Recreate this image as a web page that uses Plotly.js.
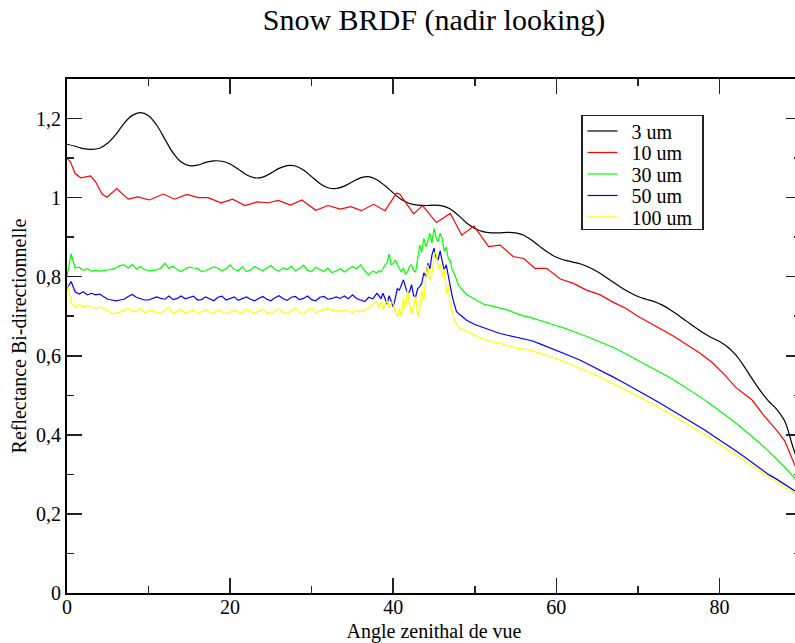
<!DOCTYPE html>
<html>
<head>
<meta charset="utf-8">
<script src="https://cdn.plot.ly/plotly-3.0.1.min.js"></script>
<style>
  html, body { margin: 0; padding: 0; overflow: hidden; background: #fff; }
  #chart { width: 810px; height: 643px; }
</style>
</head>
<body>
<div id="chart"></div>
<script>
// Snow BRDF, nadir looking: reflectance vs view zenith angle for five grain sizes

// 3 um grains (smooth curve)
const angle3 = [0,1,2,3,4,5,6,7,8,9,10,11,12,13,14,15,16,17,18,19,20,21,22,23,24,25,26,27,28,29,
  30,31,32,33,34,35,36,37,38,39,40,41,42,43,44,45,46,47,48,49,50,51,52,53,54,55,56,57,58,59,
  60,61,62,63,64,65,66,67,68,69,70,71,72,73,74,75,76,77,78,79,80,81,82,83,84,85,86,87,88,89,90];
const refl3 = [1.135,1.130,1.124,1.122,1.125,1.138,1.160,1.188,1.208,1.215,
  1.207,1.183,1.148,1.113,1.090,1.081,1.082,1.089,1.093,1.092,
  1.085,1.072,1.058,1.050,1.052,1.062,1.074,1.081,1.080,1.070,
  1.053,1.036,1.025,1.023,1.029,1.040,1.050,1.053,1.045,1.030,
  1.012,0.995,0.985,0.981,0.980,0.981,0.979,0.971,0.955,0.936,
  0.922,0.914,0.911,0.911,0.912,0.911,0.905,0.892,0.876,0.861,
  0.849,0.842,0.837,0.832,0.824,0.813,0.800,0.786,0.772,0.760,
  0.750,0.743,0.737,0.728,0.716,0.702,0.687,0.672,0.658,0.646,
  0.636,0.622,0.602,0.574,0.542,0.512,0.486,0.465,0.435,0.370,0.310];

// 10 um grains
const angle10 = [0,0.4,1,1.7,2.9,3.5,4.3,4.9,6.1,7.5,8.7,10.1,11.8,13.2,14.7,16.1,17.3,18.9,20.3,21.8,
  23.3,24.7,25.9,27.4,28.8,30.5,32.0,33.5,34.8,36.1,37.6,39.0,40.4,40.8,42.5,43.6,45.3,47.0,48.4,49.9,
  51.7,53.1,54.7,56.0,57.4,58.8,60.5,62.1,63.7,65.4,67,68.5,70,71.5,73,74.5,76,77.5,79,80.5,
  82,83,84,85.4,87,88,89.1,90];
const refl10 = [1.100,1.091,1.061,1.050,1.055,1.040,1.009,1.001,1.023,0.996,1.002,0.994,1.009,0.996,1.008,
  1.000,1.000,0.987,0.996,0.980,0.989,0.987,0.993,0.981,0.994,0.968,0.980,0.971,0.977,0.967,
  0.983,0.967,1.011,1.009,0.959,0.980,0.937,0.960,0.905,0.928,0.876,0.880,0.851,0.846,0.821,
  0.821,0.794,0.783,0.766,0.754,0.735,0.720,0.700,0.683,0.665,0.648,0.628,0.608,0.585,0.555,
  0.520,0.503,0.488,0.450,0.412,0.385,0.330,0.290];

// shared angle grid for the 30, 50 and 100 um curves
const angleFine = [0,0.5,1,1.5,2,2.5,3,3.5,4,4.5,5,5.5,6,6.5,7,7.5,8,8.5,9,9.5,
  10,10.5,11,11.5,12,12.5,13,13.5,14,14.5,15,15.5,16,16.5,17,17.5,18,18.5,19,19.5,
  20,20.5,21,21.5,22,22.5,23,23.5,24,24.5,25,25.5,26,26.5,27,27.5,28,28.5,29,29.5,
  30,30.5,31,31.5,32,32.5,33,33.5,34,34.5,35,35.5,36,36.5,37,37.5,38,
  38.25,38.5,38.75,39,39.25,39.5,39.75,40,40.25,40.5,40.75,41,41.25,41.5,41.75,42,42.25,42.5,42.75,43,
  43.25,43.5,43.75,44,44.25,44.5,44.75,45,45.25,45.5,45.75,46,46.25,46.5,46.75,47,47.25,47.5,47.75,48,
  49,50,51,52,53,54,55,56,57,58,59,60,61,62,63,64,65,66,67,68,69,
  70,71,72,73,74,75,76,77,78,79,80,81,82,83,84,85,86,87,88,89,90];

const refl30 = [0.800,0.858,0.822,0.824,0.816,0.820,0.814,0.816,0.814,0.815,
  0.817,0.819,0.822,0.828,0.830,0.822,0.831,0.819,0.826,0.818,
  0.815,0.816,0.817,0.822,0.834,0.821,0.827,0.818,0.813,0.820,
  0.824,0.822,0.821,0.813,0.815,0.820,0.825,0.822,0.815,0.820,
  0.830,0.818,0.815,0.825,0.813,0.817,0.826,0.820,0.815,0.822,
  0.828,0.818,0.814,0.823,0.818,0.826,0.815,0.820,0.829,0.816,
  0.813,0.824,0.818,0.813,0.822,0.810,0.815,0.820,0.812,0.818,
  0.826,0.820,0.830,0.815,0.805,0.814,0.810,
  0.815,0.812,0.820,0.830,0.835,0.858,0.830,0.833,0.842,0.830,
  0.820,0.813,0.822,0.806,0.812,0.826,0.830,0.815,0.812,0.845,
  0.880,0.862,0.897,0.876,0.890,0.910,0.885,0.922,0.900,0.888,
  0.910,0.897,0.865,0.875,0.846,0.840,0.815,0.808,0.790,0.778,
  0.755,0.742,0.731,0.726,0.721,0.716,0.708,0.701,0.696,0.690,
  0.683,0.676,0.670,0.662,0.655,0.647,0.638,0.630,0.621,0.611,
  0.600,0.590,0.579,0.568,0.556,0.544,0.531,0.518,0.505,0.491,
  0.476,0.461,0.446,0.430,0.413,0.396,0.378,0.359,0.339,0.318,
  0.296,0.272];

const refl50 = [0.770,0.788,0.762,0.756,0.762,0.754,0.758,0.754,0.756,0.750,
  0.743,0.741,0.739,0.741,0.743,0.750,0.755,0.748,0.744,0.741,
  0.741,0.745,0.749,0.745,0.743,0.751,0.742,0.745,0.751,0.744,
  0.747,0.751,0.741,0.742,0.749,0.744,0.739,0.748,0.751,0.741,
  0.745,0.749,0.740,0.744,0.749,0.743,0.739,0.745,0.750,0.743,
  0.739,0.747,0.752,0.744,0.740,0.748,0.750,0.742,0.745,0.751,
  0.742,0.739,0.748,0.750,0.743,0.745,0.749,0.745,0.751,0.744,
  0.754,0.745,0.740,0.737,0.748,0.744,0.758,
  0.750,0.745,0.758,0.745,0.730,0.752,0.735,0.724,0.745,0.770,
  0.766,0.780,0.792,0.775,0.758,0.762,0.780,0.752,0.749,0.770,
  0.775,0.783,0.810,0.800,0.834,0.820,0.855,0.872,0.850,0.842,
  0.865,0.840,0.817,0.830,0.800,0.770,0.749,0.730,0.712,0.707,
  0.690,0.679,0.672,0.664,0.657,0.652,0.647,0.643,0.638,0.630,
  0.622,0.615,0.606,0.597,0.588,0.578,0.568,0.557,0.546,0.535,
  0.524,0.512,0.501,0.489,0.477,0.465,0.453,0.441,0.428,0.415,
  0.401,0.388,0.374,0.360,0.345,0.330,0.315,0.300,0.288,0.275,
  0.262,0.248];

const refl100 = [0.785,0.735,0.722,0.730,0.724,0.727,0.722,0.720,0.723,0.720,
  0.714,0.707,0.708,0.711,0.716,0.720,0.714,0.711,0.720,0.708,
  0.712,0.716,0.710,0.707,0.715,0.723,0.707,0.713,0.718,0.707,
  0.712,0.716,0.706,0.711,0.718,0.710,0.707,0.716,0.712,0.706,
  0.710,0.716,0.710,0.707,0.718,0.712,0.707,0.713,0.718,0.709,
  0.706,0.713,0.719,0.710,0.707,0.714,0.720,0.710,0.707,0.716,
  0.720,0.709,0.713,0.718,0.721,0.714,0.716,0.712,0.716,0.712,
  0.710,0.714,0.711,0.716,0.721,0.730,0.737,
  0.722,0.737,0.718,0.728,0.740,0.720,0.735,0.733,0.710,0.700,
  0.720,0.699,0.745,0.720,0.766,0.730,0.705,0.724,0.750,0.699,
  0.720,0.766,0.740,0.800,0.830,0.790,0.808,0.850,0.867,0.820,
  0.834,0.800,0.820,0.758,0.780,0.724,0.710,0.690,0.682,0.672,
  0.662,0.651,0.642,0.636,0.632,0.626,0.620,0.617,0.613,0.606,
  0.600,0.593,0.585,0.577,0.568,0.559,0.550,0.540,0.530,0.519,
  0.509,0.498,0.487,0.476,0.464,0.452,0.440,0.428,0.416,0.403,
  0.390,0.377,0.364,0.350,0.336,0.322,0.308,0.294,0.281,0.268,
  0.256,0.243];

const seriesNames = ['3 um', '10 um', '30 um', '50 um', '100 um'];
const seriesColors = ['#000000', '#ff0000', '#00ff00', '#0000ff', '#ffff00'];

const serif = 'Liberation Serif, Times New Roman, serif';

const traces = [
  { x: angle3, y: refl3, line: { shape: 'spline', smoothing: 1 } },
  { x: angle10, y: refl10, line: {} },
  { x: angleFine, y: refl30, line: {} },
  { x: angleFine, y: refl50, line: {} },
  { x: angleFine, y: refl100, line: {} }
].map((t, i) => ({
  type: 'scatter',
  mode: 'lines',
  x: t.x,
  y: t.y,
  name: seriesNames[i],
  line: Object.assign({ color: seriesColors[i], width: 1.2 }, t.line)
}));

const axisCommon = {
  showline: true,
  linecolor: '#000',
  linewidth: 2,
  mirror: 'allticks',
  ticks: 'inside',
  ticklen: 15,
  tickwidth: 1.5,
  tickcolor: '#222',
  showgrid: false,
  zeroline: false,
  tickfont: { family: serif, size: 20, color: '#000' }
};

const layout = {
  width: 810,
  height: 643,
  margin: { l: 67, r: 9, t: 79, b: 50 },
  paper_bgcolor: '#fff',
  plot_bgcolor: '#fff',
  separators: ',.',
  font: { family: serif, color: '#000' },
  title: {
    text: 'Snow BRDF (nadir looking)',
    font: { family: serif, size: 30, color: '#000' },
    x: 0.5, xref: 'paper',
    y: 1 - 19 / 643, yref: 'container', yanchor: 'middle'
  },
  xaxis: Object.assign({}, axisCommon, {
    range: [0, 90],
    tick0: 0, dtick: 20,
    ticklabelstandoff: -5,
    minor: { ticks: 'inside', ticklen: 7, tickwidth: 1.5, tickcolor: '#222', dtick: 10 },
    title: { text: 'Angle zenithal de vue', font: { family: serif, size: 20, color: '#000' }, standoff: 7 }
  }),
  yaxis: Object.assign({}, axisCommon, {
    range: [0, 1.3],
    tick0: 0, dtick: 0.2,
    minor: { ticks: 'inside', ticklen: 7, tickwidth: 1.5, tickcolor: '#222', dtick: 0.1 },
    title: { text: 'Reflectance Bi-directionnelle', font: { family: serif, size: 20, color: '#000' }, standoff: 4 }
  }),
  showlegend: true,
  legend: {
    x: 0.7003, xanchor: 'left',
    y: 0.93, yanchor: 'top',
    bgcolor: '#fff',
    bordercolor: '#222',
    borderwidth: 1.5,
    font: { family: serif, size: 20, color: '#000' },
    tracegroupgap: 0
  }
};

Plotly.newPlot('chart', traces, layout, { staticPlot: true, displayModeBar: false }).then(gd => {
  // compact legend: 21.5 px rows, text set a little further from the line samples
  const step = 21.5;
  const rows = gd.querySelectorAll('.legend .traces');
  let y0 = null;
  rows.forEach((row, i) => {
    const m = /translate\(\s*([-\d.e]+)[ ,]+([-\d.e]+)\s*\)/.exec(row.getAttribute('transform') || '');
    if (!m) return;
    const x = parseFloat(m[1]);
    const y = parseFloat(m[2]);
    if (y0 === null) y0 = y - 5;
    row.setAttribute('transform', 'translate(' + x + ',' + (y0 + i * step) + ')');
    const label = row.querySelector('text.legendtext');
    if (label) label.setAttribute('x', 49);
  });
  const scrollbox = gd.querySelector('.legend .scrollbox');
  if (scrollbox) scrollbox.removeAttribute('clip-path');
  const bg = gd.querySelector('.legend .bg');
  if (bg) {
    bg.setAttribute('height', 114);
    bg.setAttribute('width', 121);
  }
});
</script>
</body>
</html>
